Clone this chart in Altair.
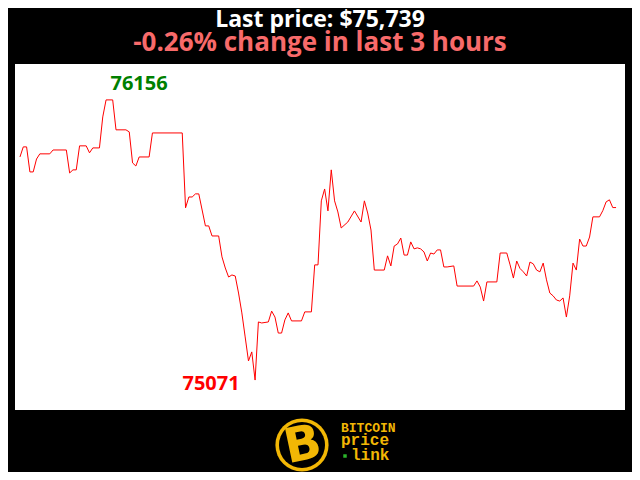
import altair as alt
import pandas as pd

# minutes since start (1-minute samples, vertices)
minutes = [0, 1, 2, 3, 4, 5, 6, 9, 10, 14, 15, 16, 17, 18, 20, 21, 22, 24, 25, 26,
           28, 29, 32, 33, 34, 35, 36, 39, 40, 49, 50, 51, 52, 53, 54, 56, 57, 58, 60, 61,
           62, 63, 64, 65, 66, 67, 68, 69, 70, 71, 72, 73, 75, 76, 77, 78, 79, 80, 81, 82,
           85, 86, 88, 89, 90, 91, 92, 93, 94, 95, 96, 97, 99, 101, 103, 104, 105, 106, 107, 110,
           111, 112, 113, 114, 115, 116, 117, 118, 119, 120, 121, 122, 123, 124, 125, 126, 127, 128, 129, 131,
           132, 137, 138, 139, 140, 141, 144, 145, 147, 148, 149, 150, 151, 152, 153, 154, 155, 156, 157, 158,
           159, 160, 161, 162, 163, 164, 165, 166, 167, 168, 169, 170, 171, 172, 173, 175, 176, 177, 178, 179,
           180]
prices = [75935, 75974, 75974, 75877, 75877, 75927, 75947, 75947, 75962, 75962, 75873, 75885, 75885, 75978, 75978, 75951, 75970, 75970, 76090, 76156,
          76156, 76040, 76040, 76032, 75912, 75900, 75935, 75935, 76028, 76028, 75738, 75780, 75780, 75792, 75792, 75668, 75668, 75629, 75629, 75548,
          75505, 75470, 75478, 75474, 75408, 75331, 75238, 75145, 75180, 75071, 75296, 75292, 75296, 75338, 75315, 75253, 75253, 75304, 75331, 75300,
          75300, 75335, 75335, 75517, 75517, 75765, 75811, 75726, 75885, 75765, 75722, 75660, 75683, 75726, 75683, 75765, 75718, 75652, 75497, 75497,
          75552, 75513, 75590, 75598, 75621, 75555, 75555, 75606, 75579, 75583, 75579, 75567, 75532, 75563, 75559, 75575, 75575, 75509, 75509, 75513,
          75435, 75435, 75455, 75431, 75377, 75451, 75451, 75563, 75563, 75517, 75466, 75532, 75503, 75490, 75474, 75528, 75521, 75497, 75490, 75524,
          75459, 75408, 75397, 75381, 75377, 75389, 75315, 75397, 75524, 75497, 75617, 75590, 75590, 75625, 75703, 75703, 75727, 75761, 75769, 75739,
          75739]

title_text = "Last price: $75,739"
subtitle_text = "-0.26% change in last 3 hours"
logo_lines = ["BITCOIN", "price", "link"]

df = pd.DataFrame({"minute": minutes, "price": prices})
imax = df["price"].idxmax()
imin = df["price"].idxmin()
df_max = df.loc[[imax]].assign(label=lambda d: d["price"].astype(str))
df_min = df.loc[[imin]].assign(label=lambda d: d["price"].astype(str))

W, H = 610, 346
xs = alt.Scale(domain=[-1.5, 182.7], nice=False, zero=False)
ys = alt.Scale(domain=[74955, 76295], nice=False, zero=False)
X = alt.X("minute:Q", scale=xs, axis=None)
Y = alt.Y("price:Q", scale=ys, axis=None)

line = alt.Chart(df).mark_line(color="#ff0000", strokeWidth=1).encode(x=X, y=Y)

max_lbl = alt.Chart(df_max).mark_text(
    font="Open Sans", fontWeight="bold", fontSize=20, color="#008000",
    align="center", baseline="alphabetic", dx=33, dy=-10
).encode(x=X, y=Y, text="label:N")

min_lbl = alt.Chart(df_min).mark_text(
    font="Open Sans", fontWeight="bold", fontSize=20, color="#ff0000",
    align="center", baseline="alphabetic", dx=-44, dy=10
).encode(x=X, y=Y, text="label:N")

one = alt.Data(values=[{"t": 1}])

title = alt.Chart(one).mark_text(
    font="Open Sans", fontWeight="bold", fontSize=23, color="white",
    align="center", baseline="alphabetic"
).encode(x=alt.value(W / 2), y=alt.value(-37), text=alt.value(title_text))

subtitle = alt.Chart(one).mark_text(
    font="Open Sans", fontWeight="bold", fontSize=26, color="#f86a6a",
    align="center", baseline="alphabetic"
).encode(x=alt.value(W / 2), y=alt.value(-13), text=alt.value(subtitle_text))

gold = "#f2b705"
cx, cy = 287, 381
ring = alt.Chart(one).mark_point(shape="circle", filled=True, color=gold, opacity=1).encode(
    x=alt.value(cx), y=alt.value(cy), size=alt.value(2830))
inner = alt.Chart(one).mark_point(shape="circle", filled=True, color="black", opacity=1).encode(
    x=alt.value(cx), y=alt.value(cy), size=alt.value(2120))
bglyph = alt.Chart(one).mark_text(
    font="DejaVu Sans", fontWeight="bold", fontSize=48, color=gold,
    align="center", baseline="middle", angle=348
).encode(x=alt.value(cx + 1), y=alt.value(cy + 1), text=alt.value("B"))

logo1 = alt.Chart(one).mark_text(
    font="Liberation Mono", fontWeight="bold", fontSize=13, color=gold,
    align="left", baseline="alphabetic"
).encode(x=alt.value(326), y=alt.value(368), text=alt.value(logo_lines[0]))
logo2 = alt.Chart(one).mark_text(
    font="Liberation Mono", fontWeight="bold", fontSize=16, color=gold,
    align="left", baseline="alphabetic"
).encode(x=alt.value(326), y=alt.value(381), text=alt.value(logo_lines[1]))
logo3 = alt.Chart(one).mark_text(
    font="Liberation Mono", fontWeight="bold", fontSize=16, color=gold,
    align="left", baseline="alphabetic"
).encode(x=alt.value(336), y=alt.value(396), text=alt.value(logo_lines[2]))
dot = alt.Chart(one).mark_point(shape="square", filled=True, color="#2bb52b", opacity=1).encode(
    x=alt.value(330), y=alt.value(392), size=alt.value(12))

chart = alt.layer(
    line, max_lbl, min_lbl, title, subtitle, ring, inner, bglyph, logo1, logo2, logo3, dot
).properties(
    width=W, height=H,
    background="black",
    padding={"left": 7, "top": 56, "right": 7, "bottom": 62},
    autosize=alt.AutoSizeParams(type="none"),
).configure_view(fill="white", stroke=None)

chart.save("out.html", embed_options={"renderer": "svg", "actions": False})
